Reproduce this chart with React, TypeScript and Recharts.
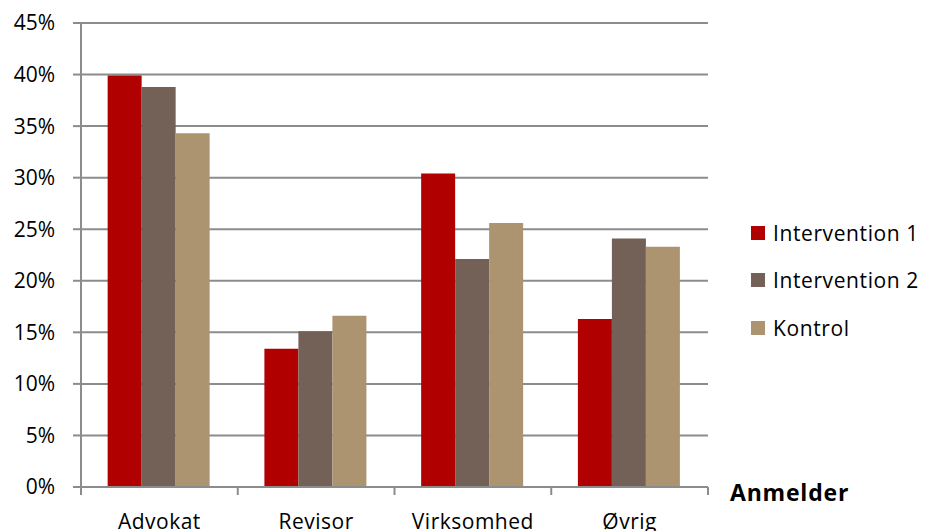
import React from "react";
import { BarChart, Bar, XAxis, YAxis, CartesianGrid, Legend, Label } from "recharts";

const categories = ["Advokat", "Revisor", "Virksomhed", "Øvrig"];
const intervention1 = [39.9, 13.4, 30.4, 16.3];
const intervention2 = [38.8, 15.1, 22.1, 24.1];
const kontrol = [34.3, 16.6, 25.6, 23.3];
const yTicks = [0, 5, 10, 15, 20, 25, 30, 35, 40, 45];

const data = categories.map((name, i) => ({
  name,
  i1: intervention1[i],
  i2: intervention2[i],
  k: kontrol[i],
}));

const FONT = "'Open Sans', Lato, sans-serif";
const FS = 21;
const AXIS = "#8c8c8c";

function XTick(props: any) {
  const { x, y, payload, index, visibleTicksCount } = props;
  const half = payload.offset ?? 78;
  const top = y - 27 + 8;
  return (
    <g>
      <line x1={x - half} x2={x - half} y1={top - 8} y2={top} stroke={AXIS} strokeWidth={2} />
      {index === (visibleTicksCount ?? 4) - 1 && (
        <line x1={x + half} x2={x + half} y1={top - 8} y2={top} stroke={AXIS} strokeWidth={2} />
      )}
      <text x={x} y={y} dy="0.71em" textAnchor="middle" fill="#000" fontSize={FS} fontFamily={FONT} letterSpacing={0.5}>
        {payload.value}
      </text>
    </g>
  );
}

function LegendContent(props: any) {
  const { payload } = props;
  return (
    <div style={{ fontFamily: FONT, fontSize: FS, letterSpacing: 0.6 }}>
      {payload.map((p: any) => (
        <div key={p.value} style={{ display: "flex", alignItems: "center", height: 47.5 }}>
          <span style={{ width: 14, height: 14, background: p.color, marginRight: 8, display: "inline-block" }} />
          <span style={{ color: "#000", whiteSpace: "nowrap" }}>{p.value}</span>
        </div>
      ))}
    </div>
  );
}

export default function App() {
  return (
    <div style={{ position: "absolute", left: 0, top: 0, background: "#fff" }}>
      <BarChart
        width={927}
        height={531}
        data={data}
        margin={{ top: 23, right: 43, bottom: 0, left: 0 }}
        barCategoryGap="17%"
        barGap={0}
      >
        <CartesianGrid vertical={false} stroke={AXIS} strokeWidth={2} />
        <XAxis
          dataKey="name"
          height={44}
          tickLine={false}
          tickSize={8}
          tickMargin={19}
          stroke={AXIS}
          strokeWidth={2}
          tick={<XTick />}
          interval={0}
        >
          <Label
            value="Anmelder"
            position="right"
            offset={22}
            dy={-16}
            style={{ fontFamily: FONT, fontSize: 23, fontWeight: 700, fill: "#000", letterSpacing: 0.8 }}
          />
        </XAxis>
        <YAxis
          width={81}
          domain={[0, 45]}
          ticks={yTicks}
          interval={0}
          tickFormatter={(v: number) => `${v}%`}
          tickSize={8}
          tickMargin={18}
          stroke={AXIS}
          strokeWidth={2}
          tick={{ fill: "#000", fontSize: FS, fontFamily: FONT }}
        />
        <Legend
          layout="vertical"
          align="right"
          verticalAlign="middle"
          content={<LegendContent />}
          wrapperStyle={{ left: 751, top: 209, width: 176 }}
        />
        <Bar dataKey="i1" name="Intervention 1" fill="#b00000" isAnimationActive={false} />
        <Bar dataKey="i2" name="Intervention 2" fill="#736056" isAnimationActive={false} />
        <Bar dataKey="k" name="Kontrol" fill="#ad9470" isAnimationActive={false} />
      </BarChart>
    </div>
  );
}
